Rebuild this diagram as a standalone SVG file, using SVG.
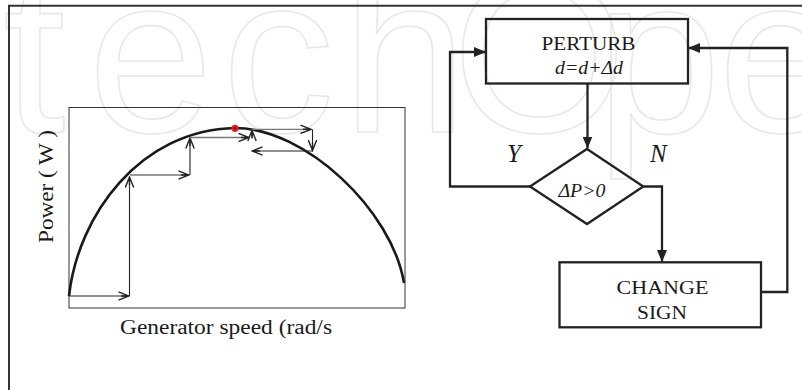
<svg xmlns="http://www.w3.org/2000/svg" width="802" height="390" viewBox="0 0 802 390">
<style>
.wm{font-family:"Liberation Sans",Arial,sans-serif;font-size:225px;fill:none;stroke:#e8e8e8;stroke-width:1.6}
.t{font-family:"Liberation Serif","Times New Roman",serif;fill:#1a1a1a}
.i{font-style:italic}
.frame{fill:none;stroke:#333;stroke-width:2}
.fc{fill:none;stroke:#222;stroke-width:2.3}
.plot{fill:none;stroke:#333;stroke-width:1}
.step{fill:none;stroke:#222;stroke-width:1.1}
.stepg{fill:none;stroke:#777;stroke-width:1.3}
.curve{fill:none;stroke:#1a1a1a;stroke-width:2.6}
</style>
<defs>
<marker id="fa" viewBox="0 0 12 10" refX="12" refY="5" markerWidth="12" markerHeight="10" markerUnits="userSpaceOnUse" orient="auto">
<path d="M0,0 L12,5 L0,10 z" fill="#222"/>
</marker>
<marker id="oa" viewBox="0 0 12 10" refX="11" refY="5" markerWidth="12" markerHeight="10" markerUnits="userSpaceOnUse" orient="auto">
<path d="M0.5,0.8 L11,5 L0.5,9.2 M11,5 L3,5" fill="none" stroke="#222" stroke-width="1.4"/>
</marker>
</defs>
<rect width="802" height="390" fill="#fff"/>
<g id="watermark">
<text class="wm" x="3 88 222 342 452 596 718" y="132">techOpe</text>
</g>
<g id="frame">
<path class="frame" d="M9,390 L9,5.7 L802,5.7"/>
</g>
<g id="chart">
<rect class="plot" x="69" y="107.5" width="336" height="200.5"/>
<path class="curve" d="M69,296 C78,215 140,130 235,128 C305,128 392,210 404,283"/>
<g id="steps">
<path class="step" d="M69,296 L129,296" marker-end="url(#oa)"/>
<path class="step" d="M129.5,296 L129.5,177" marker-end="url(#oa)"/>
<path class="stepg" d="M130,175 L189,175" marker-end="url(#oa)"/>
<path class="step" d="M190,175 L190,138" marker-end="url(#oa)"/>
<path class="stepg" d="M190,137.5 L249,137.5" marker-end="url(#oa)"/>
<path class="step" d="M252,137.5 L252,130.5" marker-end="url(#oa)"/>
<path class="stepg" d="M252,129.3 L311,129.3" marker-end="url(#oa)"/>
<path class="step" d="M312.5,129.3 L312.5,150.5" marker-end="url(#oa)"/>
<path class="step" d="M312.5,151 L252,151" marker-end="url(#oa)"/>
</g>
<circle cx="235" cy="128.3" r="3.6" fill="#e52020"/>
<circle cx="235" cy="128.3" r="1.1" fill="#111"/>
<text class="t" x="120" y="334" font-size="20" textLength="212" lengthAdjust="spacingAndGlyphs">Generator speed (rad/s</text>
<text class="t" transform="translate(53,186.5) rotate(-90)" x="0" y="0" font-size="20" text-anchor="middle" textLength="113" lengthAdjust="spacingAndGlyphs">Power ( W )</text>
</g>
<g id="connectors">
<path class="fc" d="M587.5,83.5 L587.5,148.5" marker-end="url(#fa)"/>
<path class="fc" d="M530,186.5 L450,186.5 L450,52 L486,52" marker-end="url(#fa)"/>
<path class="fc" d="M643.3,186.5 L662,186.5 L662,262" marker-end="url(#fa)"/>
<path class="fc" d="M761,292 L787.3,292 L787.3,48 L688,48" marker-end="url(#fa)"/>
</g>
<g id="perturb">
<rect class="fc" x="486" y="19" width="202" height="64.5"/>
<text class="t" x="588.5" y="49.5" font-size="19" text-anchor="middle" textLength="94" lengthAdjust="spacingAndGlyphs">PERTURB</text>
<text class="t i" x="589" y="73.5" font-size="19" text-anchor="middle" textLength="68" lengthAdjust="spacingAndGlyphs">d=d+Δd</text>
</g>
<g id="decision">
<path class="fc" d="M587,149 L643.3,186.5 L587,224 L530,186.5 Z"/>
<text class="t i" x="582" y="197" font-size="18" text-anchor="middle" textLength="47" lengthAdjust="spacingAndGlyphs">ΔP&gt;0</text>
</g>
<g id="labels">
<text class="t i" x="507" y="162" font-size="25">Y</text>
<text class="t i" x="650" y="162" font-size="25">N</text>
</g>
<g id="changesign">
<rect class="fc" x="559.5" y="262.3" width="201.5" height="65"/>
<text class="t" x="662.5" y="293.5" font-size="19" text-anchor="middle" textLength="92" lengthAdjust="spacingAndGlyphs">CHANGE</text>
<text class="t" x="662" y="318.5" font-size="19" text-anchor="middle" textLength="50" lengthAdjust="spacingAndGlyphs">SIGN</text>
</g>
</svg>
